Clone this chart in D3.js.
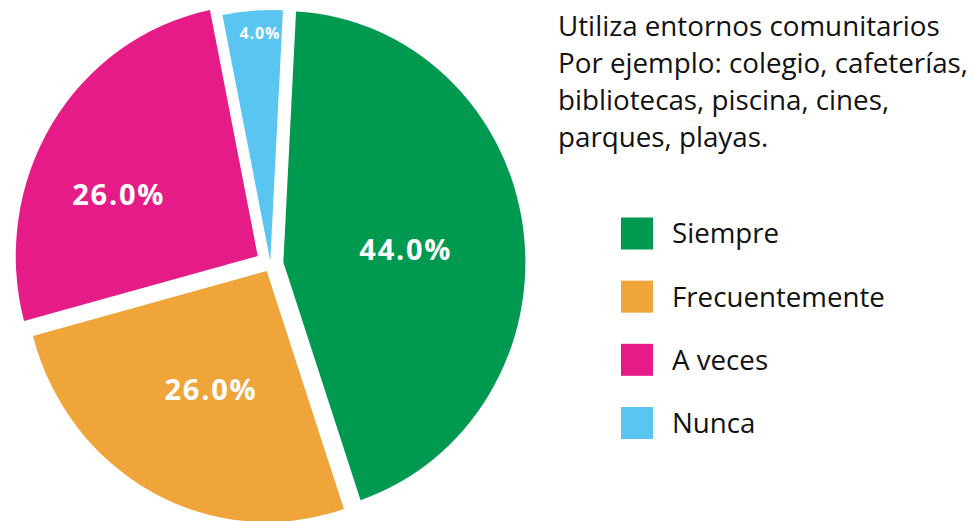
<!DOCTYPE html>
<meta charset="utf-8">
<style>
body { margin: 0; background: #fff; }
.title, .legend text { font-family: "Open Sans", sans-serif; fill: #111; }
.label { font-family: "Open Sans", sans-serif; font-weight: 700; fill: #fff; letter-spacing: 0.06em; }
</style>
<body>
<script src="https://cdn.jsdelivr.net/npm/d3@7"></script>
<script>

// data
var categories = ["Siempre", "Frecuentemente", "A veces", "Nunca"];
var values = [44, 26, 26, 4];
var labels = ["44.0%", "26.0%", "26.0%", "4.0%"];
var titleLines = [
  "Utiliza entornos comunitarios",
  "Por ejemplo: colegio, cafeterías,",
  "bibliotecas, piscina, cines,",
  "parques, playas."
];

var colors = ["#009950", "#F0A53A", "#E51C87", "#5BC5F2"];

// layout
var width = 975, height = 521;
var cx = 270.5, cy = 264, rx = 242, ry = 251;
var rotation = 3 * Math.PI / 180;
var explode = [13, 8, 15, 3];            // px, along each slice's bisector
var labelR = [123, 131, 152, 228];       // px from the slice apex
var labelShift = [2, -3, -8, 1.6];       // degrees
var labelSize = [29, 29, 29, 16];

var svg = d3.select("body").append("svg")
    .attr("width", width)
    .attr("height", height);

var pie = d3.pie()
    .sort(null)
    .startAngle(rotation)
    .endAngle(rotation + 2 * Math.PI)
    .value(function(d) { return d; });

var arc = d3.arc()
    .innerRadius(0)
    .outerRadius(rx);

var slices = pie(values).map(function(d, i) {
  var mid = (d.startAngle + d.endAngle) / 2;
  d.ox = cx + Math.sin(mid) * explode[i];
  d.oy = cy - Math.cos(mid) * explode[i];
  d.mid = mid;
  return d;
});

svg.selectAll(".slice")
    .data(slices)
  .enter().append("path")
    .attr("class", "slice")
    .attr("transform", function(d) { return "translate(" + d.ox + "," + d.oy + ") scale(1," + (ry / rx) + ")"; })
    .attr("d", arc)
    .style("fill", function(d, i) { return colors[i]; });

svg.selectAll(".label")
    .data(slices)
  .enter().append("text")
    .attr("class", "label")
    .attr("x", function(d, i) { return d.ox + Math.sin(d.mid + labelShift[i] * Math.PI / 180) * labelR[i]; })
    .attr("y", function(d, i) { return d.oy - Math.cos(d.mid + labelShift[i] * Math.PI / 180) * labelR[i]; })
    .attr("dy", ".36em")
    .style("font-size", function(d, i) { return labelSize[i] + "px"; })
    .style("text-anchor", "middle")
    .text(function(d, i) { return labels[i]; });

// title, sized so the widest line fits its measured width
var title = svg.append("text")
    .attr("class", "title")
    .style("font-size", "30px");

title.selectAll("tspan")
    .data(titleLines)
  .enter().append("tspan")
    .attr("x", 558)
    .attr("y", function(d, i) { return 36 + i * 37; })
    .text(function(d) { return d; });

var w = title.selectAll("tspan").nodes()[1].getComputedTextLength();
title.style("font-size", (30 * 410 / w) + "px");

// legend
var y = d3.scalePoint()
    .domain(categories)
    .range([233.5, 423]);

var legend = svg.selectAll(".legend")
    .data(categories)
  .enter().append("g")
    .attr("class", "legend")
    .attr("transform", function(d) { return "translate(621," + y(d) + ")"; });

legend.append("rect")
    .attr("y", -16)
    .attr("width", 32)
    .attr("height", 32)
    .style("fill", function(d, i) { return colors[i]; });

legend.append("text")
    .attr("x", 51)
    .attr("dy", ".36em")
    .style("font-size", "25px")
    .text(function(d) { return d; });

var lw = legend.selectAll("text").nodes()[1].getComputedTextLength();
legend.selectAll("text").style("font-size", (25 * 213 / lw) + "px");

</script>
